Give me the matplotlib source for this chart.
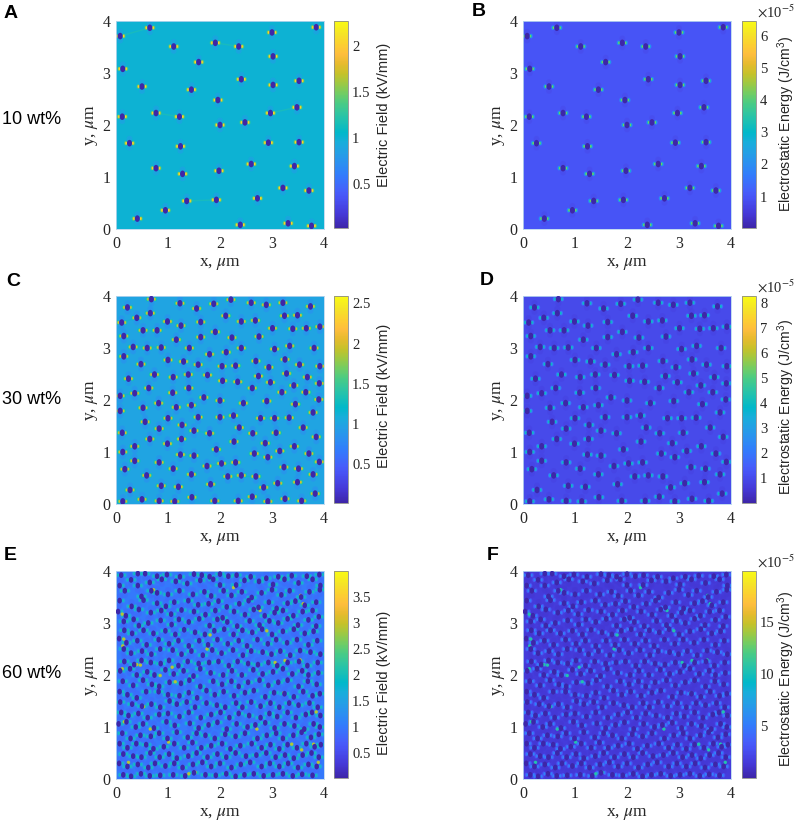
import numpy as np
import matplotlib
matplotlib.use("Agg")
import matplotlib.pyplot as plt
from matplotlib.cm import ScalarMappable
from matplotlib.colors import LinearSegmentedColormap, Normalize
from matplotlib.markers import MarkerStyle
from matplotlib.transforms import Affine2D

plt.rcParams['font.family'] = ['Liberation Serif', 'DejaVu Serif']
plt.rcParams['mathtext.fontset'] = 'stix'

# particle centres, um. B, D, F use the same particles as A, C, E
x_10 = [0.65, 3.85, 0.08, 3.00, 1.91, 1.11, 2.36, 3.02, 1.59, 0.13, 2.41, 3.52, 3.02, 0.50, 1.45, 1.96, 3.48, 0.77, 2.97, 0.12, 1.22,
        2.48, 2.00, 0.26, 2.93, 3.52, 1.24, 2.60, 3.43, 0.77, 1.98, 1.28, 3.21, 3.71, 2.72, 1.93, 1.36, 0.95, 0.41, 2.39, 3.31, 3.76]
y_10 = [3.87, 3.88, 3.71, 3.78, 3.58, 3.51, 3.51, 3.32, 3.21, 3.08, 2.88, 2.85, 2.77, 2.74, 2.68, 2.48, 2.34, 2.23, 2.23, 2.16, 2.16,
        2.05, 2.00, 1.65, 1.66, 1.67, 1.59, 1.25, 1.21, 1.17, 1.12, 1.06, 0.79, 0.74, 0.59, 0.56, 0.54, 0.36, 0.20, 0.08, 0.11, 0.06]

x_30 = [.68, .22, 1.23, 1.55, 1.88, 2.21, 2.60, 2.89, 3.21, 3.74, .66, .40, .11, .99, 1.25, 1.63, 2.11, 2.41, 2.68, 3.24, 3.49,
        .52, .79, 3.01, 3.40, 3.66, 3.92, .15, 1.63, 1.91, 2.23, 2.75, 1.16, .33, .60, .87, 1.41, 1.80, 2.12, 2.41, 3.05, 3.34, 3.81, .15,
        .48, 1.00, 1.30, 1.58, 2.04, 2.30, 2.69, 2.94, 3.25, 3.53, 3.92, .24, .74, 1.10, 1.39, 1.76, 2.05, 2.34, 2.74, 2.97, 3.28, 3.68, 3.91,
        .63, 1.40, 2.62, 3.19, 3.42, 3.65, .08, .36, 1.09, 1.69, 2.00, 2.90, 2.45, 3.90, .52, .82, 1.16, 1.45, 3.45, .08, 3.79,
        1.00, 1.58, 2.00, 2.26, 2.78, 3.05, 3.33, .56, 1.27, .83, 1.50, 1.80, 2.37, 3.60, .12, 2.63, 3.08,
        .65, 1.26, .99, 2.27, 2.87, 3.85, .36, 3.43, .13, 1.93, 1.24, 1.50, 2.66, 2.92, 3.15, 3.71,
        .36, .83, 1.75, 2.03, 2.30, 3.23, 3.51, 3.91, .17, 1.10, .59, 1.45, 2.15, 2.41, 2.69, 3.79,
        .87, 1.20, 1.82, 2.84, 3.11, 3.49, .27, 3.83, .13, .50, .83, 1.13, 1.46, 1.90, 2.35, 2.62, 2.92, 3.25, 3.57]
y_30 = [3.94, 3.78, 3.86, 3.76, 3.85, 3.93, 3.87, 3.83, 3.87, 3.80, 3.67, 3.58, 3.49, 3.51, 3.43, 3.50, 3.62, 3.51, 3.53, 3.62, 3.63,
        3.34, 3.34, 3.38, 3.37, 3.38, 3.41, 3.23, 3.21, 3.31, 3.20, 3.22, 3.16, 3.02, 3.00, 3.01, 3.00, 2.88, 2.92, 3.00, 2.98, 3.04, 3.00, 2.84,
        2.69, 2.77, 2.74, 2.68, 2.65, 2.66, 2.75, 2.63, 2.78, 2.68, 2.65, 2.41, 2.49, 2.44, 2.49, 2.48, 2.37, 2.35, 2.46, 2.34, 2.51, 2.44, 2.32,
        2.23, 2.23, 2.23, 2.15, 2.28, 2.15, 2.08, 2.13, 2.14, 2.05, 1.99, 1.98, 1.94, 2.01, 1.85, 1.94, 1.86, 1.90, 1.92, 1.79, 1.76,
        1.65, 1.67, 1.67, 1.70, 1.65, 1.65, 1.66, 1.58, 1.52, 1.45, 1.41, 1.36, 1.47, 1.47, 1.37, 1.36, 1.37,
        1.25, 1.25, 1.16, 1.20, 1.17, 1.29, 1.11, 1.11, 1.00, 1.05, .95, .93, .97, .90, 1.02, .97,
        .83, .80, .73, .78, .80, .71, .68, .81, .67, .68, .55, .57, .53, .55, .53, .57,
        .35, .33, .38, .32, .40, .42, .27, .20, .05, .09, .06, .05, .13, .06, .06, .14, .05, .10, .06]

x_60 = [.10, .42, .56, .79, .98, 1.23, 1.50, 1.65, 1.80, 2.00, 2.16, 2.32, 2.59, 3.12, 3.38, 3.67, 3.91,
        .07, .29, .42, .65, .88, 1.15, 1.37, 1.62, 1.87, 2.00, 2.31, 2.47, 2.75, 2.89, 3.02, 3.24, 3.51, 3.78, 3.93,
        .17, .49, .68, .79, 1.00, 1.22, 1.48, 1.70, 1.83, 2.07, 2.22, 2.42, 2.61, 2.80, 3.00, 3.18, 3.34, 3.56, 3.72, 3.92,
        .07, .30, .53, .79, .96, 1.12, 1.39, 1.58, 1.78, 1.97, 2.13, 2.37, 2.55, 2.74, 2.94, 3.09, 3.30, 3.45, 3.63, 3.85,
        .04, .19, .44, .67, .87, 1.06, 1.26, 1.50, 1.72, 1.91, 2.05, 2.27, 2.48, 2.65, 2.86, 3.05, 3.21, 3.41, 3.59, 3.78, 3.90,
        .15, .34, .44, .62, .86, 1.07, 1.21, 1.40, 1.60, 1.80, 1.95, 2.14, 2.33, 2.57, 2.76, 2.95, 3.12, 3.30, 3.50, 3.70, 3.85,
        .16, .31, .53, .72, .95, 1.14, 1.31, 1.52, 1.71, 1.89, 2.08, 2.26, 2.43, 2.62, 2.81, 3.00, 3.21, 3.42, 3.63, 3.80,
        .06, .20, .41, .59, .82, 1.02, 1.20, 1.40, 1.60, 1.77, 1.95, 2.15, 2.36, 2.52, 2.72, 2.92, 3.08, 3.29, 3.48, 3.70, 3.87,
        .15, .29, .50, .68, .85, 1.09, 1.26, 1.45, 1.67, 1.85, 2.03, 2.25, 2.44, 2.60, 2.82, 2.99, 3.16, 3.35, 3.54, 3.74, 3.93,
        .16, .35, .49, .67, .86, 1.02, 1.20, 1.38, 1.59, 1.79, 1.97, 2.17, 2.34, 2.54, 2.73, 2.93, 3.10, 3.30, 3.52, 3.68, 3.88,
        .08, .27, .40, .60, .74, .95, 1.11, 1.30, 1.49, 1.62, 1.82, 2.06, 2.23, 2.42, 2.64, 2.82, 3.02, 3.21, 3.39, 3.58, 3.70, 3.89,
        .13, .33, .52, .69, .83, 1.03, 1.25, 1.41, 1.62, 1.87, 2.04, 2.22, 2.36, 2.54, 2.76, 2.93, 3.12, 3.30, 3.51, 3.69, 3.86,
        .07, .22, .40, .58, .82, 1.00, 1.22, 1.40, 1.56, 1.74, 1.90, 2.07, 2.27, 2.48, 2.65, 2.87, 3.04, 3.24, 3.42, 3.60, 3.78, 3.92,
        .08, .31, .50, .68, .85, 1.03, 1.17, 1.36, 1.52, 1.74, 1.94, 2.10, 2.31, 2.43, 2.60, 2.78, 2.97, 3.14, 3.33, 3.51, 3.72, 3.88,
        .10, .24, .43, .61, .83, 1.00, 1.22, 1.40, 1.63, 1.83, 2.01, 2.18, 2.36, 2.56, 2.78, 2.95, 3.10, 3.30, 3.46, 3.65, 3.77, 3.93,
        .05, .20, .38, .52, .73, .97, 1.13, 1.42, 1.59, 1.78, 1.95, 2.13, 2.32, 2.53, 2.68, 2.87, 3.05, 3.24, 3.43, 3.62, 3.80, 3.92,
        .12, .28, .47, .67, .83, .99, 1.17, 1.38, 1.55, 1.72, 1.90, 2.10, 2.30, 2.48, 2.72, 2.90, 3.08, 3.21, 3.41, 3.57, 3.75, 3.90,
        .07, .22, .39, .58, .72, .92, 1.12, 1.31, 1.47, 1.64, 1.83, 2.04, 2.20, 2.39, 2.61, 2.80, 2.97, 3.14, 3.30, 3.48, 3.66, 3.82, 3.94,
        .14, .33, .49, .66, .84, 1.02, 1.17, 1.39, 1.55, 1.76, 1.95, 2.12, 2.30, 2.50, 2.70, 2.89, 3.07, 3.25, 3.42, 3.59, 3.76, 3.90,
        .06, .22, .42, .62, .75, .95, 1.12, 1.28, 1.48, 1.66, 1.83, 2.00, 2.22, 2.40, 2.58, 2.80, 2.96, 3.14, 3.31, 3.50, 3.70, 3.86,
        .14, .29, .48, .65, .85, 1.10, 1.33, 1.50, 1.72, 1.92, 2.12, 2.30, 2.47, 2.65, 2.84, 3.02, 3.21, 3.40, 3.58, 3.78]
y_60 = [3.92, 3.95, 3.95, 3.90, 3.93, 3.89, 3.94, 3.92, 3.89, 3.94, 3.90, 3.92, 3.89, 3.89, 3.91, 3.90, 3.93,
        3.72, 3.83, 3.72, 3.78, 3.84, 3.80, 3.76, 3.82, 3.84, 3.73, 3.73, 3.82, 3.80, 3.86, 3.74, 3.84, 3.77, 3.84, 3.72,
        3.62, 3.51, 3.62, 3.58, 3.55, 3.62, 3.55, 3.60, 3.52, 3.62, 3.53, 3.60, 3.49, 3.58, 3.64, 3.54, 3.62, 3.50, 3.60, 3.64,
        3.43, 3.32, 3.44, 3.38, 3.32, 3.40, 3.43, 3.35, 3.37, 3.42, 3.31, 3.37, 3.43, 3.30, 3.40, 3.28, 3.38, 3.42, 3.34, 3.40,
        3.22, 3.14, 3.26, 3.20, 3.24, 3.17, 3.25, 3.22, 3.16, 3.24, 3.10, 3.22, 3.16, 3.26, 3.14, 3.20, 3.24, 3.14, 3.22, 3.24, 3.12,
        3.03, 3.07, 2.95, 3.00, 3.05, 2.97, 3.07, 3.02, 3.08, 2.95, 3.07, 3.02, 2.94, 3.04, 2.96, 3.04, 3.00, 3.08, 2.96, 3.06, 2.94,
        2.86, 2.80, 2.86, 2.80, 2.85, 2.78, 2.87, 2.82, 2.78, 2.85, 2.88, 2.78, 2.86, 2.82, 2.88, 2.78, 2.84, 2.88, 2.80, 2.84,
        2.70, 2.62, 2.66, 2.58, 2.68, 2.60, 2.66, 2.56, 2.66, 2.58, 2.68, 2.60, 2.66, 2.56, 2.68, 2.60, 2.68, 2.62, 2.68, 2.58, 2.66,
        2.50, 2.42, 2.46, 2.40, 2.50, 2.48, 2.40, 2.46, 2.38, 2.48, 2.42, 2.48, 2.38, 2.46, 2.44, 2.40, 2.46, 2.38, 2.47, 2.44, 2.40,
        2.26, 2.20, 2.28, 2.24, 2.22, 2.28, 2.18, 2.26, 2.22, 2.24, 2.26, 2.18, 2.26, 2.22, 2.20, 2.24, 2.18, 2.24, 2.26, 2.18, 2.24,
        2.08, 2.12, 2.00, 2.06, 2.00, 2.10, 2.02, 2.08, 1.98, 2.12, 2.04, 2.00, 2.08, 2.00, 2.10, 2.02, 2.06, 2.12, 2.02, 2.08, 2.00, 2.04,
        1.88, 1.80, 1.90, 1.82, 1.78, 1.86, 1.84, 1.90, 1.78, 1.88, 1.82, 1.88, 1.78, 1.86, 1.90, 1.80, 1.86, 1.90, 1.78, 1.88, 1.82,
        1.68, 1.62, 1.56, 1.68, 1.68, 1.62, 1.60, 1.66, 1.56, 1.70, 1.62, 1.68, 1.60, 1.66, 1.70, 1.58, 1.66, 1.64, 1.58, 1.68, 1.60, 1.64,
        1.48, 1.44, 1.40, 1.44, 1.38, 1.50, 1.44, 1.48, 1.38, 1.46, 1.42, 1.38, 1.46, 1.38, 1.48, 1.40, 1.46, 1.38, 1.46, 1.42, 1.46, 1.38,
        1.28, 1.22, 1.26, 1.18, 1.24, 1.26, 1.20, 1.28, 1.18, 1.24, 1.28, 1.18, 1.26, 1.22, 1.18, 1.26, 1.20, 1.28, 1.18, 1.24, 1.28, 1.22,
        1.06, 1.10, 1.00, 1.06, .98, 1.10, 1.03, 1.07, .98, 1.04, 1.09, .96, 1.06, 1.00, 1.04, 1.08, .98, 1.06, 1.02, .96, 1.06, 1.00,
        .88, .78, .84, .82, .88, .78, .90, .80, .88, .84, .78, .86, .82, .88, .78, .84, .88, .78, .84, .90, .80, .86,
        .68, .60, .68, .66, .58, .62, .68, .60, .70, .60, .64, .68, .58, .64, .68, .60, .66, .58, .66, .60, .68, .62, .66,
        .48, .44, .42, .50, .42, .48, .40, .44, .50, .42, .48, .42, .50, .44, .46, .50, .42, .46, .40, .46, .50, .42,
        .30, .24, .28, .22, .30, .25, .30, .22, .28, .32, .24, .30, .22, .28, .32, .24, .30, .24, .30, .22, .28, .24,
        .08, .05, .10, .06, .07, .08, .06, .12, .08, .07, .10, .05, .08, .10, .06, .08, .10, .06, .09, .07]

# brightest gaps in E and F
hot_x_60 = [.12, .28, 1.14, 3.23, 3.85, .53, .16, .24, 2.26, .72, 2.77, 3.55, 3.60, .15, .13, .40, .12, .47, .85, 1.08, 3.06, 3.25, 3.54,
            3.80, 3.89, .66, 1.01, 3.38, 3.57, 1.40, 1.52, 1.81, 1.75, 2.71, 2.90]
hot_y_60 = [3.17, 3.32, 1.87, 1.66, 1.29, 1.39, 1.10, .32, 3.68, 3.64, 3.24, 3.53, 3.37, 2.69, 2.56, 2.20, 2.12, 2.19, 1.99, 2.15, 2.24, 2.28, 2.29,
            .67, .32, .96, .71, .67, .56, .10, .13, 2.77, 2.50, .96, 2.85]

# colorbar ranges and ticks
limits_field = [(0.02, 2.27), (0.02, 2.59), (0.02, 4.0)]
limits_energy = [(0.02, 6.47), (0.02, 8.28), (0.05, 19.9)]
ticks_field = [[0.5, 1, 1.5, 2], [0.5, 1, 1.5, 2, 2.5], [0.5, 1, 1.5, 2, 2.5, 3, 3.5]]
labels_field = [['0.5', '1', '1.5', '2'], ['0.5', '1', '1.5', '2', '2.5'], ['0.5', '1', '1.5', '2', '2.5', '3', '3.5']]
ticks_energy = [[1, 2, 3, 4, 5, 6], [1, 2, 3, 4, 5, 6, 7, 8], [5, 10, 15]]

# levels: matrix, weak lobe, mid lobe, strong lobe
levels_field = [(1.0, 1.2, 1.6, 2.05), (1.0, 1.25, 1.6, 2.0), (1.0, 1.3, 1.6, 2.0)]
levels_energy = [(1.0, 1.7, 2.8, 4.2), (1.0, 1.8, 2.8, 4.0), (1.6, 2.8, 4.0, 5.5)]
hot_field = [None, None, 2.9]
hot_energy = [None, None, 10.5]

links_10 = [(1.91, 3.58, 2.36, 3.51), (0.77, 2.23, 1.22, 2.16), (1.36, 0.54, 1.93, 0.56), (2.97, 2.23, 3.48, 2.34), (0.08, 3.71, 0.65, 3.87)]
links_30 = [(.33, 3.02, .87, 3.01), (.52, 3.34, .79, 3.34), (3.40, 3.37, 3.92, 3.41), (.08, 2.08, .36, 2.13), (2.04, 2.65, 2.30, 2.66),
            (2.05, 2.37, 2.34, 2.35), (1.75, .73, 2.30, .80), (2.15, .53, 2.69, .53), (2.66, .97, 2.92, .90), (1.24, .95, 1.50, .93),
            (2.78, 1.65, 3.33, 1.66), (2.00, 1.67, 2.26, 1.70), (.13, 1.00, .36, 1.11), (3.24, 3.62, 3.49, 3.63), (2.41, 3.51, 2.68, 3.53),
            (1.50, 1.41, 1.80, 1.36), (.11, 3.49, .40, 3.58), (3.65, 2.15, 3.90, 2.01), (3.68, 2.44, 3.91, 2.32)]
links_60 = []

row_names = ['10 wt%', '30 wt%', '60 wt%']

# MATLAB parula, sampled at its original 64 step index
parula_steps = [0, 4, 9, 11, 16, 19, 23, 26, 29, 32, 35, 38, 41, 44, 47, 50, 53, 56, 59, 63]
parula_rgb = [(0.2422, 0.1504, 0.6603), (0.2706, 0.2147, 0.8364), (0.2810, 0.3228, 0.9579), (0.2760, 0.3667, 0.9829),
              (0.1963, 0.4847, 0.9892), (0.1764, 0.5499, 0.9520), (0.1380, 0.6276, 0.8973), (0.0952, 0.6798, 0.8598),
              (0.0036, 0.7203, 0.7917), (0.0964, 0.7500, 0.7120), (0.1938, 0.7758, 0.6251), (0.2906, 0.7973, 0.5188),
              (0.4456, 0.8024, 0.3909), (0.6174, 0.7876, 0.2612), (0.7738, 0.7598, 0.1646), (0.9035, 0.7330, 0.1774),
              (0.9956, 0.7434, 0.2371), (0.9892, 0.8136, 0.1885), (0.9610, 0.8890, 0.1537), (0.9769, 0.9839, 0.0805)]
parula = LinearSegmentedColormap.from_list('parula', [(s / 63, c) for s, c in zip(parula_steps, parula_rgb)], N=256)

W, H = 796, 822
fig = plt.figure(figsize=(W / 100, H / 100), dpi=100)


def pixel_axes(left, top, width, height):
    return fig.add_axes([left / W, 1 - (top + height) / H, width / W, height / H])


def draw_particles(ax, xs, ys, links, levels, limits, hot=None):
    xs = np.array(xs)
    ys = np.array(ys)
    norm = Normalize(*limits)
    matrix, weak, mid, strong = levels
    ax.set_facecolor(parula(norm(matrix)))

    for x0, y0, x1, y1 in links:
        ax.plot([x0, x1], [y0, y1], color=parula(norm(weak)), lw=1.0, alpha=0.55, zorder=1)

    # slightly lower field above and below each particle
    for side in (-1, 1):
        ax.scatter(xs, ys + side * 0.085, s=18, c=np.full(len(xs), matrix * 0.8), cmap=parula, norm=norm,
                   linewidths=0, alpha=0.5, zorder=1)

    # lobes either side of each particle, along the applied field
    lobe = MarkerStyle('o', transform=Affine2D().scale(0.8, 1.2))
    for offset, size, level in [(0.08, 8, weak), (0.07, 5, mid), (0.063, 2.5, strong)]:
        for side in (-1, 1):
            ax.scatter(xs + side * offset, ys, s=size, c=np.full(len(xs), level), cmap=parula, norm=norm,
                       marker=lobe, linewidths=0, zorder=2)

    if hot is not None:
        ax.scatter(hot_x_60, hot_y_60, s=6, c=np.full(len(hot_x_60), hot), cmap=parula, norm=norm,
                   linewidths=0, zorder=2)

    # the 60 wt% panels pack the particles a bit tighter, so draw them a bit smaller
    oval = MarkerStyle('o', transform=Affine2D().scale(0.86, 1.12))
    ax.scatter(xs, ys, s=18 if len(xs) < 200 else 14, c=np.full(len(xs), limits[0]), cmap=parula, norm=norm,
               marker=oval, linewidths=0, zorder=3)

    ax.set_xlim(0, 4)
    ax.set_ylim(0, 4)
    ax.set_xticks([0, 1, 2, 3, 4])
    ax.set_yticks([0, 1, 2, 3, 4])
    ax.tick_params(length=0, labelsize=11.5, labelcolor='#262626')
    ax.tick_params(axis='x', pad=5)
    ax.tick_params(axis='y', pad=4)
    for spine in ax.spines.values():
        spine.set_edgecolor('#b9d6ee')
        spine.set_linewidth(0.6)
    ax.set_xlabel(r'x, $\mu$m', fontsize=12.5, labelpad=3, color='#262626')
    ax.set_ylabel(r'y, $\mu$m', fontsize=12.5, labelpad=2, color='#262626')


def draw_colorbar(cax, limits, ticks, tick_labels):
    bar = fig.colorbar(ScalarMappable(Normalize(*limits), parula), cax=cax)
    bar.set_ticks(ticks, labels=tick_labels)
    bar.ax.tick_params(length=0, labelsize=10.5, pad=3, labelcolor='#262626')
    bar.outline.set_edgecolor('#8a8a8a')
    bar.outline.set_linewidth(0.6)


sans = ['Liberation Sans', 'DejaVu Sans']
tops = [21, 296, 571]
particles = [(x_10, y_10, links_10), (x_30, y_30, links_30), (x_60, y_60, links_60)]
left_letters = [('A', 4, 13), ('C', 6, 281), ('E', 4, 556)]
right_letters = [('B', 472, 12), ('D', 480, 280), ('F', 487, 556)]
row_y = [119, 399, 673]
field_label_y = [115, 396, 683]
energy_label_y = [124, 407, 679]

for i, top in enumerate(tops):
    xs, ys, links = particles[i]

    ax = pixel_axes(116, top, 208, 208)
    draw_particles(ax, xs, ys, links, levels_field[i], limits_field[i], hot_field[i])
    cax = pixel_axes(334, top, 14, 207)
    draw_colorbar(cax, limits_field[i], ticks_field[i], labels_field[i])
    fig.text(384 / W, 1 - field_label_y[i] / H, 'Electric Field (kV/mm)', rotation=90, family=sans,
             fontsize=10.5, ha='center', va='center', color='#262626')

    ax = pixel_axes(523, top, 208, 208)
    draw_particles(ax, xs, ys, [], levels_energy[i], limits_energy[i], hot_energy[i])
    cax = pixel_axes(742, top, 14, 207)
    draw_colorbar(cax, limits_energy[i], ticks_energy[i], [str(t) for t in ticks_energy[i]])
    fig.text(786 / W, 1 - energy_label_y[i] / H, r'Electrostatic Energy (J/cm$\mathregular{^3}$)', rotation=90,
             family=sans, fontsize=10.2, ha='center', va='center', color='#262626')
    fig.text(757 / W, 1 - (top - 9) / H, r'$\times$10$^{-5}$', fontsize=10.5, ha='left', va='center', color='#262626')

    letter, lx, ly = left_letters[i]
    fig.text(lx / W, 1 - ly / H, letter, family=sans, fontsize=14, weight='bold', va='center')
    letter, lx, ly = right_letters[i]
    fig.text(lx / W, 1 - ly / H, letter, family=sans, fontsize=14, weight='bold', va='center')
    fig.text(2 / W, 1 - row_y[i] / H, row_names[i], family=sans, fontsize=13, va='center')

fig.savefig('out.png', dpi=100)
